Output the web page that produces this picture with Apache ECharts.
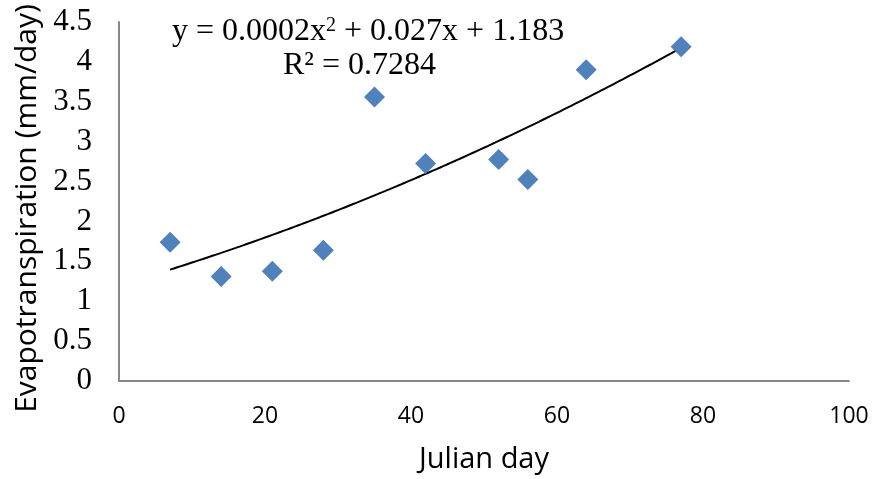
<!DOCTYPE html>
<html>
<head>
<meta charset="utf-8">
<script src="https://cdn.jsdelivr.net/npm/echarts@6/dist/echarts.min.js"></script>
<style>
  html, body { margin: 0; padding: 0; background: #fff; }
  #chart { width: 877px; height: 479px; }
</style>
</head>
<body>
<div id="chart"></div>
<script>
// Julian day of each measurement and the evapotranspiration measured that day
const julianDays = [7, 14, 21, 28, 35, 42, 52, 56, 64, 77];
const evapotranspiration = [1.74, 1.31, 1.375, 1.64, 3.56, 2.725, 2.775, 2.525, 3.9, 4.19];
const equationText = 'y = 0.0002x{sup|2} + 0.027x + 1.183';
const rSquaredText = 'R² = 0.7284';

// Least-squares quadratic fit (normal equations, solved by Cramer's rule)
function quadFit(xs, ys) {
  let s = [0, 0, 0, 0, 0], t = [0, 0, 0];
  xs.forEach((x, i) => {
    for (let k = 0; k < 5; k++) s[k] += Math.pow(x, k);
    for (let k = 0; k < 3; k++) t[k] += ys[i] * Math.pow(x, k);
  });
  const M = [[s[0], s[1], s[2]], [s[1], s[2], s[3]], [s[2], s[3], s[4]]];
  const det = m => m[0][0] * (m[1][1] * m[2][2] - m[1][2] * m[2][1])
    - m[0][1] * (m[1][0] * m[2][2] - m[1][2] * m[2][0])
    + m[0][2] * (m[1][0] * m[2][1] - m[1][1] * m[2][0]);
  const D = det(M);
  const coef = [0, 1, 2].map(c => det(M.map((row, r) => row.map((v, j) => (j === c ? t[r] : v)))) / D);
  return x => coef[0] + coef[1] * x + coef[2] * x * x;
}

const fit = quadFit(julianDays, evapotranspiration);
const xMin = Math.min(...julianDays), xMax = Math.max(...julianDays);
const trend = [];
for (let x = xMin; x <= xMax + 1e-9; x += 0.5) trend.push([x, fit(x)]);

const points = julianDays.map((d, i) => [d, evapotranspiration[i]]);

const chart = echarts.init(document.getElementById('chart'));
chart.setOption({
  animation: false,
  backgroundColor: '#ffffff',
  grid: { left: 119, right: 28, top: 22, bottom: 97 },
  xAxis: {
    type: 'value', min: 0, max: 100, interval: 20,
    name: 'Julian day', nameLocation: 'middle', nameGap: 64,
    nameTextStyle: { fontFamily: 'Open Sans', fontSize: 29, color: '#000' },
    axisLine: { lineStyle: { color: '#898989', width: 2 } },
    axisTick: { show: false },
    splitLine: { show: false },
    axisLabel: { fontFamily: 'Open Sans', fontSize: 23, color: '#000', margin: 24 }
  },
  yAxis: {
    type: 'value', min: 0, max: 4.5, interval: 0.5,
    name: 'Evapotranspiration (mm/day)', nameLocation: 'middle', nameGap: 77,
    nameTextStyle: { fontFamily: 'Open Sans', fontSize: 30, color: '#000', padding: [0, 14, 0, 0] },
    axisLine: { show: true, lineStyle: { color: '#898989', width: 2 } },
    axisTick: { show: false },
    splitLine: { show: false },
    axisLabel: { fontFamily: 'Liberation Serif', fontSize: 31, color: '#000', margin: 27 }
  },
  graphic: [
    {
      type: 'text', left: 172, top: 16,
      style: {
        text: equationText,
        font: '32px "Liberation Serif"', fill: '#000',
        rich: { sup: { fontFamily: 'Liberation Serif', fontSize: 20, verticalAlign: 'top', padding: [0, 0, 12, 0] } }
      }
    },
    {
      type: 'text', left: 283, top: 50,
      style: { text: rSquaredText, font: '32px "Liberation Serif"', fill: '#000' }
    }
  ],
  series: [
    {
      type: 'line', data: trend, showSymbol: false, symbol: 'none',
      lineStyle: { color: '#000', width: 2 }, z: 2, silent: true
    },
    {
      type: 'scatter', data: points, symbol: 'diamond', symbolSize: 21,
      itemStyle: { color: '#4f81bd', opacity: 1 }, z: 3
    }
  ]
});
</script>
</body>
</html>
